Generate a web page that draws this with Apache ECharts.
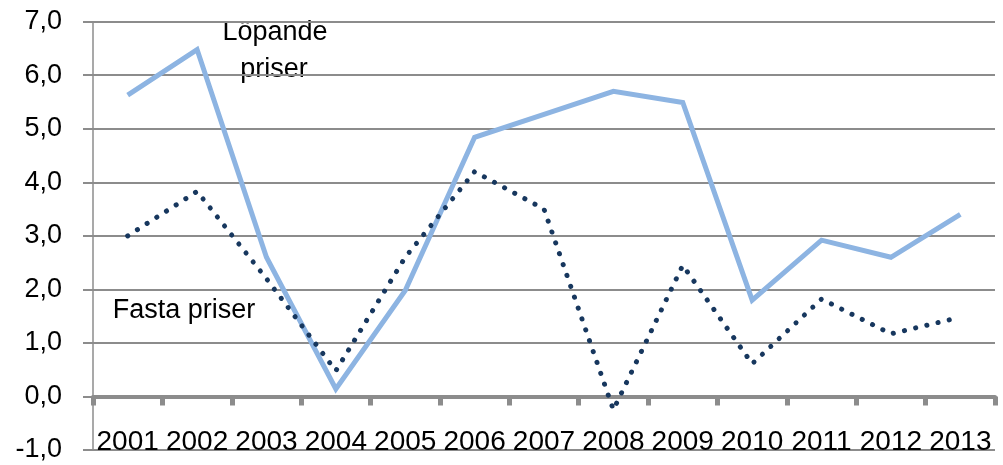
<!DOCTYPE html>
<html>
<head>
<meta charset="utf-8">
<script src="https://cdn.jsdelivr.net/npm/echarts@6/dist/echarts.min.js"></script>
<style>
html,body{margin:0;padding:0;background:#fff;}
#c{width:1003px;height:465px;}
</style>
</head>
<body>
<div id="c"></div>
<script>
const years = ['2001','2002','2003','2004','2005','2006','2007','2008','2009','2010','2011','2012','2013'];
const lopandePriser = [5.63, 6.48, 2.6, 0.14, 1.98, 4.84, 5.27, 5.7, 5.49, 1.8, 2.92, 2.6, 3.4];
const fastaPriser = [3.0, 3.83, 2.2, 0.48, 2.6, 4.2, 3.5, -0.25, 2.45, 0.61, 1.82, 1.17, 1.48];
const seriesNames = ['Löpande priser', 'Fasta priser'];
const yMin = -1, yMax = 7, yStep = 1;

const chart = echarts.init(document.getElementById('c'), null, {renderer: 'canvas'});
const gray = '#8c8c8c';
chart.setOption({
  animation: false,
  backgroundColor: '#ffffff',
  grid: {left: 93, right: 8, top: 21.7, bottom: 15, containLabel: false, outerBoundsMode: 'none'},
  xAxis: {
    type: 'category',
    data: years,
    boundaryGap: true,
    axisLine: {onZero: true, lineStyle: {color: gray, width: 4}},
    axisTick: {show: true, length: 9, inside: false, alignWithLabel: false, lineStyle: {color: gray, width: 5}},
    axisLabel: {color: '#000', fontFamily: 'Liberation Sans', fontSize: 28, margin: -22, interval: 0, hideOverlap: false}
  },
  yAxis: {
    type: 'value',
    min: yMin, max: yMax, interval: yStep,
    axisLine: {show: true, lineStyle: {color: gray, width: 1.5}},
    axisTick: {show: true, length: 10, lineStyle: {color: gray, width: 2}},
    splitLine: {show: true, lineStyle: {color: gray, width: 2}},
    axisLabel: {
      color: '#000', fontFamily: 'Liberation Sans', fontSize: 27, margin: 31,
      formatter: v => v.toFixed(1).replace('.', ',')
    }
  },
  series: [
    {
      name: seriesNames[0], type: 'line', data: lopandePriser,
      showSymbol: false, symbol: 'none',
      lineStyle: {color: '#8DB4E2', width: 5, cap: 'butt', join: 'miter'}
    },
    {
      name: seriesNames[1], type: 'line', data: fastaPriser,
      showSymbol: false, symbol: 'none',
      lineStyle: {color: '#17375E', width: 5, type: [0.1, 11.4], cap: 'round'}
    }
  ],
  graphic: [
    {type: 'text', x: 275, y: 33, style: {text: 'Löpande', fill: '#000', font: '27px "Liberation Sans"', textAlign: 'center', textVerticalAlign: 'middle'}},
    {type: 'text', x: 274, y: 70, style: {text: 'priser', fill: '#000', font: '27px "Liberation Sans"', textAlign: 'center', textVerticalAlign: 'middle'}},
    {type: 'text', x: 184, y: 311, style: {text: 'Fasta priser', fill: '#000', font: '27px "Liberation Sans"', textAlign: 'center', textVerticalAlign: 'middle'}}
  ]
});
</script>
</body>
</html>
